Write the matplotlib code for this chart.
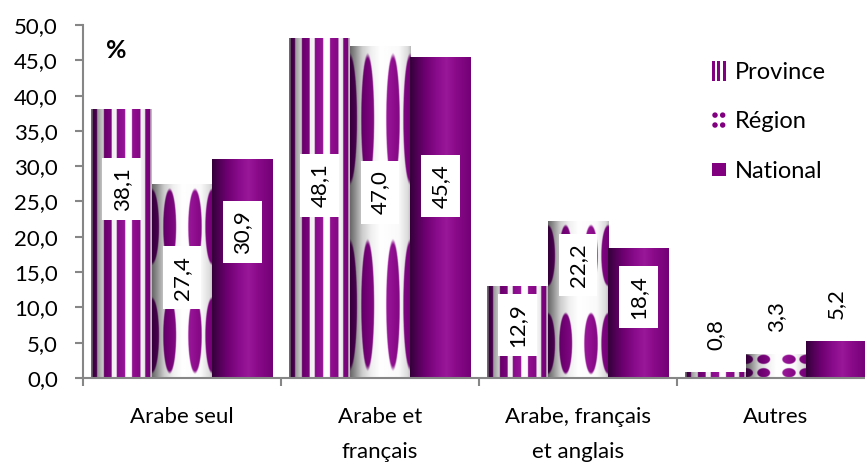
import numpy as np
import matplotlib
matplotlib.use("Agg")
import matplotlib.pyplot as plt
from matplotlib.legend_handler import HandlerBase
from matplotlib.patches import Rectangle, Ellipse, Patch
from matplotlib.ticker import FixedLocator, FuncFormatter

plt.rcParams["font.family"] = ["Lato", "DejaVu Sans"]

# ---------------- data ----------------
categories = ["Arabe seul", "Arabe et\nfrançais", "Arabe, français\net anglais", "Autres"]
series_names = ["Province", "Région", "National"]
province = [38.1, 48.1, 12.9, 0.8]
region = [27.4, 47.0, 22.2, 3.3]
national = [30.9, 45.4, 18.4, 5.2]
y_ticks = [0, 5, 10, 15, 20, 25, 30, 35, 40, 45, 50]
# vertical centre (in % units) of boxed value labels; None -> label above bar
label_centers = {
    "Province": [26.8, 27.3, 7.5, None],
    "Région": [14.2, 26.3, 16.0, None],
    "National": [20.7, 27.2, 11.5, None],
}

FS = 16

# ---------------- textures ----------------
NW, NH = 180, 400
u = (np.arange(NW) + 0.5) / NW
v = (np.arange(NH) + 0.5) / NH

purple_keys = [(0.0, (0.20, 0.0, 0.22)), (0.1, (0.30, 0.0, 0.32)), (0.25, (0.43, 0.0, 0.44)),
               (0.45, (0.54, 0.05, 0.55)), (0.6, (0.60, 0.09, 0.60)), (0.75, (0.54, 0.04, 0.54)),
               (1.0, (0.45, 0.0, 0.46))]
white_keys = [(0.0, 0.40), (0.08, 0.55), (0.2, 0.80), (0.35, 0.94), (0.5, 1.0), (0.8, 0.98),
              (0.95, 0.86), (1.0, 0.72)]


def interp_rgb(x, keys):
    xs = [k[0] for k in keys]
    return np.stack([np.interp(x, xs, [k[1][i] for k in keys]) for i in range(3)], axis=-1)


P = interp_rgb(u, purple_keys)                       # (NW,3)
Wg = np.interp(u, [k[0] for k in white_keys], [k[1] for k in white_keys])
W = np.stack([Wg, Wg, Wg], axis=-1)                  # (NW,3)


def tex_national():
    return np.broadcast_to(P[None, :, :], (NH, NW, 3)).copy()


def tex_province():
    stripes = [(0.03, 0.10), (0.21, 0.34), (0.42, 0.56), (0.67, 0.81), (0.89, 0.97)]
    m = np.zeros(NW)
    for a, b in stripes:
        m = np.maximum(m, ((u >= a) & (u < b)).astype(float))
    row = W * (1 - m[:, None]) + P * m[:, None]
    return np.broadcast_to(row[None, :, :], (NH, NW, 3)).copy()


def tex_region():
    U, V = np.meshgrid(u, v)
    cols = [(0.0, 0.12), (0.29, 0.11), (0.705, 0.115), (0.985, 0.115)]
    rows = [(0.22, 0.2), (0.78, 0.2)]
    m = np.zeros_like(U)
    for cu, hu in cols:
        for cv, hv in rows:
            d = np.sqrt(((U - cu) / hu) ** 2 + ((V - cv) / hv) ** 2)
            m = np.maximum(m, np.clip((1 - d) * 12, 0, 1))
    img = W[None, :, :] * (1 - m[..., None]) + P[None, :, :] * m[..., None]
    return img


textures = {"Province": tex_province(), "Région": tex_region(), "National": tex_national()}

# ---------------- figure ----------------
fig = plt.figure(figsize=(8.65, 4.65), dpi=100)
ax = fig.add_axes([83 / 865, 87 / 465, 792 / 865, 353 / 465])

x = np.arange(len(categories))
bw = 0.305
offsets = [-bw, 0.0, bw]
values = {"Province": province, "Région": region, "National": national}
gray = "#868686"


def fmt(val):
    return f"{val:.1f}".replace(".", ",")


for name, off in zip(series_names, offsets):
    bars = ax.bar(x + off, values[name], width=bw, color="none", edgecolor="none")
    for i, rect in enumerate(bars):
        x0, w, h = rect.get_x(), rect.get_width(), rect.get_height()
        ax.imshow(textures[name], extent=[x0, x0 + w, 0, h], aspect="auto",
                  origin="lower", interpolation="bilinear", zorder=2)
        cy = label_centers[name][i]
        xc = x0 + w / 2
        if cy is not None:
            ax.text(xc, cy, fmt(h), rotation=90, ha="center", va="center", fontsize=FS,
                    color="black", zorder=5,
                    bbox=dict(boxstyle="square,pad=0.42", fc="white", ec="none"))
        else:
            ax.annotate(fmt(h), xy=(xc, h), xytext=(0, 16), textcoords="offset points",
                        rotation=90, ha="center", va="bottom", fontsize=FS, color="black",
                        zorder=5)

ax.set_xlim(-0.5, len(categories) - 0.5)
ax.set_ylim(0, 50)

for s in ["top", "right"]:
    ax.spines[s].set_visible(False)
for s in ["left", "bottom"]:
    ax.spines[s].set_color(gray)
    ax.spines[s].set_linewidth(1.5)

ax.yaxis.set_major_locator(FixedLocator(y_ticks))
ax.yaxis.set_major_formatter(FuncFormatter(lambda val, pos: fmt(val)))
ax.tick_params(axis="y", length=6, width=1.5, color=gray, pad=12, labelsize=FS)

ax.set_xticks(x)
ax.set_xticklabels(categories)
ax.set_xticks(np.arange(len(categories) + 1) - 0.5, minor=True)
ax.tick_params(axis="x", which="major", length=0, pad=21, labelsize=FS)
ax.tick_params(axis="x", which="minor", length=6, width=1.5, color=gray)
for t in ax.get_xticklabels():
    t.set_linespacing(1.9)

fig.text(106 / 865, 1 - 51 / 465, "%", fontsize=18, fontweight="bold", va="center", ha="left")


# ---------------- legend ----------------
class ProvinceHandler(HandlerBase):
    def create_artists(self, legend, orig_handle, xd, yd, width, height, fontsize, trans):
        arts = []
        sw = width / 5
        for k in range(3):
            arts.append(Rectangle((-xd + 2 * k * sw, -yd - 0.1 * height), sw, height * 1.2,
                                  facecolor="#800080", edgecolor="none", transform=trans))
        return arts


class RegionHandler(HandlerBase):
    def create_artists(self, legend, orig_handle, xd, yd, width, height, fontsize, trans):
        arts = []
        r = width * 0.4
        for cx in (0.22, 0.78):
            for cy in (0.2, 0.8):
                arts.append(Ellipse((-xd + cx * width, -yd + cy * height), r, r,
                                    facecolor="#800080", edgecolor="none", transform=trans))
        return arts


class NationalHandler(HandlerBase):
    def create_artists(self, legend, orig_handle, xd, yd, width, height, fontsize, trans):
        s = width
        return [Rectangle((-xd, -yd + (height - s) / 2), s, s, facecolor="#800080",
                          edgecolor="none", transform=trans)]


hp, hr, hn = Patch(label="Province"), Patch(label="Région"), Patch(label="National")
fig.legend([hp, hr, hn], series_names, loc="upper left",
           bbox_to_anchor=(712 / 865, 1 - 62 / 465), bbox_transform=fig.transFigure,
           frameon=False, fontsize=17, handlelength=0.58, handleheight=0.7,
           handletextpad=0.4, labelspacing=1.2, borderpad=0, borderaxespad=0,
           handler_map={hp: ProvinceHandler(), hr: RegionHandler(), hn: NationalHandler()})

fig.savefig("out.png", dpi=100)
